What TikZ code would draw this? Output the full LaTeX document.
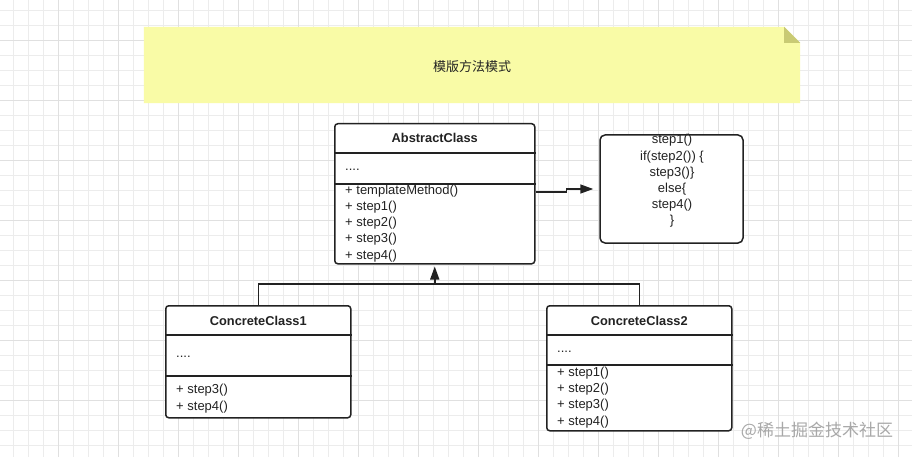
\documentclass[tikz,border=0pt]{standalone}
\usepackage{fontspec}
\setmainfont{Liberation Sans}
\newfontfamily\cjk{Noto Sans CJK SC}
\usetikzlibrary{arrows.meta, positioning}
\definecolor{notefill}{RGB}{249,251,166}
\definecolor{notefold}{RGB}{201,202,116}
\definecolor{gridminor}{RGB}{236,236,236}
\definecolor{gridmajor}{RGB}{224,224,224}
\definecolor{ink}{RGB}{34,34,34}
\definecolor{wmgray}{RGB}{168,168,168}

\begin{document}
\begin{tikzpicture}[x=1pt, y=-1pt,
        gridline/.style={draw=gridminor, line width=0.8pt},
        gridbold/.style={draw=gridmajor, line width=0.9pt},
        classbox/.style={draw=ink, line width=1.5pt, rounded corners=3pt, fill=white, inner sep=0pt},
        classname/.style={font=\fontsize{12.8}{15}\selectfont\bfseries, text=ink},
        member/.style={font=\fontsize{13}{16}\selectfont, text=ink, anchor=west, inner sep=0pt},
        link/.style={draw=ink, line width=1.5pt},
        block/.style={-{Triangle[length=13pt,width=9pt]}}]

        \useasboundingbox[fill=white] (0,0) rectangle (912,457);
        \foreach \x in {13,28,...,912} \draw[gridline] (\x,0) -- (\x,457);
        \foreach \y in {10,25,...,457} \draw[gridline] (0,\y) -- (912,\y);
        \foreach \x in {58,118,...,912} \draw[gridbold] (\x,0) -- (\x,457);
        \foreach \y in {40,100,...,457} \draw[gridbold] (0,\y) -- (912,\y);

        % sticky note
        \node[minimum width=656pt, minimum height=76pt, inner sep=0pt] (banner) at (472,65) {};
        \fill[notefill] (banner.north west) -- ([xshift=-16pt]banner.north east) -- ([yshift=-16pt]banner.north east) -- (banner.south east) -- (banner.south west) -- cycle;
        \fill[notefold] ([xshift=-16pt]banner.north east) -- ([yshift=-16pt]banner.north east) -- ([xshift=-16pt,yshift=-16pt]banner.north east) -- cycle;
        \node[font=\cjk\fontsize{13}{15}\selectfont, text=ink] (bannertext) at (472,67) {模版方法模式};

        % abstract class
        \node[classbox, minimum width=200pt, minimum height=140pt, anchor=north west] (abs) at (334,123) {};
        \draw[link] (abs.west |- 0,153) -- (abs.east |- 0,153);
        \draw[link] (abs.west |- 0,184) -- (abs.east |- 0,184);
        \node[classname] (absname) at (abs.north |- 0,138) {AbstractClass};
        \node[member] (absattr) at (345,170) {....};
        \foreach \m [count=\i from 0] in {+ templateMethod(),+ step1(),+ step2(),+ step3(),+ step4()}
            \node[member] (absm\i) at (345,{191+16.2*\i}) {\m};

        % comment box
        \node[classbox, rounded corners=5pt, minimum width=143pt, minimum height=108pt] (steps) at (671.5,189) {};
        \node[font=\fontsize{13}{16.2}\selectfont, text=ink, align=center] (stepstext) at (672,181)
            {step1()\\if(step2()) \{\\step3()\}\\else\{\\step4()\\\}};
        \draw[link, block, shorten >=6pt] (abs.east |- 0,192) -- ++(31,0) -- ++(0,-3) -- (steps.west);

        % concrete classes
        \node[classbox, minimum width=185pt, minimum height=112pt, anchor=north west] (cc1) at (165,305) {};
        \draw[link] (cc1.west |- 0,335) -- (cc1.east |- 0,335);
        \draw[link] (cc1.west |- 0,376) -- (cc1.east |- 0,376);
        \node[classname] (cc1name) at (cc1.north |- 0,321) {ConcreteClass1};
        \node[member] (cc1attr) at (176,357) {....};
        \foreach \m [count=\i from 0] in {+ step3(),+ step4()}
            \node[member] (cc1m\i) at (176,{390+17*\i}) {\m};

        \node[classbox, minimum width=185pt, minimum height=125pt, anchor=north west] (cc2) at (546,305) {};
        \draw[link] (cc2.west |- 0,335) -- (cc2.east |- 0,335);
        \draw[link] (cc2.west |- 0,365) -- (cc2.east |- 0,365);
        \node[classname] (cc2name) at (cc2.north |- 0,321) {ConcreteClass2};
        \node[member] (cc2attr) at (557,352) {....};
        \foreach \m [count=\i from 0] in {+ step1(),+ step2(),+ step3(),+ step4()}
            \node[member] (cc2m\i) at (557,{373+16.3*\i}) {\m};

        % inheritance
        \coordinate (junc) at (abs.south |- 0,284);
        \draw[link] (cc1.north) |- (junc) -| (cc2.north);
        \draw[link, block, shorten >=2pt] (junc) -- (abs.south);

        \node[font=\cjk\fontsize{17}{17}\selectfont, text=wmgray] (wm) at (817,431) {@稀土掘金技术社区};
    \end{tikzpicture}
\end{document}
